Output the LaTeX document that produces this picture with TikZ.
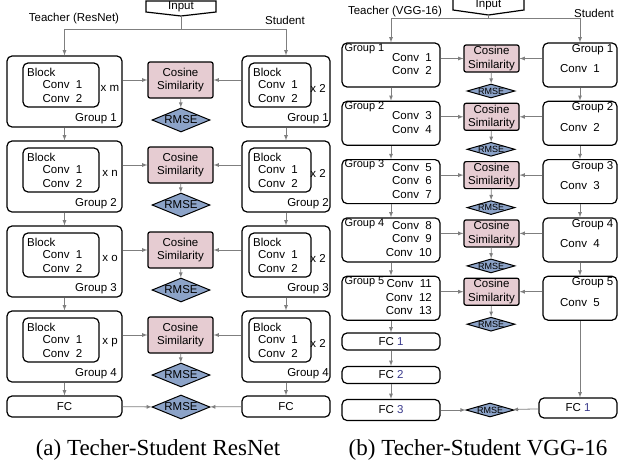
\documentclass[tikz,border=0pt]{standalone}
\usepackage{fontspec}
\setmainfont{Liberation Serif}
\setsansfont{Liberation Sans}
\usetikzlibrary{shapes.geometric}
\usetikzlibrary{arrows.meta}
\definecolor{cospink}{HTML}{E6CCD2}
\definecolor{rmseblue}{HTML}{8CA3C8}
\definecolor{fcblue}{HTML}{3A3A8C}
\definecolor{arrgray}{HTML}{7F7F7F}

\begin{document}
\begin{tikzpicture}[x=1pt,y=-1pt,>=latex,
    every node/.style={font=\sffamily\fontsize{11.5}{13.5}\selectfont, inner sep=1pt},
    box/.style={draw, line width=1.2pt, rounded corners=5pt},
    cos/.style={draw, line width=1.2pt, fill=cospink, rounded corners=2pt, align=center, inner sep=0pt},
    rmse/.style={diamond, draw, line width=1pt, fill=rmseblue, inner sep=0pt},
    arr/.style={->, draw=arrgray, line width=0.8pt},
    lin/.style={draw=arrgray, line width=0.8pt}]
  \useasboundingbox (0,0) rectangle (618,463);

  % (a) ResNet
  \node (ina) at (181,7) {Input};
  \draw[line width=1.2pt] (146,1) -- (146,12) -- (181,16) -- (216,12) -- (216,1) -- cycle;
  \coordinate (ina-b) at (181,16);
  \coordinate (ja) at (181,29);
  \node (ta) at (74,19) {Teacher (ResNet)};
  \node (sa) at (285,20) {Student};
  \foreach \i/\r in {1/m,2/n,3/o,4/p} {
    \pgfmathsetmacro{\yc}{6.5+85*\i} % row centre
    % teacher group
    \node[box, minimum width=115, minimum height=71] (tg\i) at (64.5,\yc) {};
    \node[box, minimum width=76, minimum height=44] (tb\i) at (61,\yc-6.5) {};
    \node[anchor=west] (tbl\i) at (26,\yc-19.5) {Block};
    \node (tca\i) at (62.5,\yc-7) {Conv~ 1};
    \node (tcb\i) at (62.5,\yc+7.5) {Conv~ 2};
    \node (tx\i) at (110,\yc-3.5) {x \r};
    \node[anchor=east] (tgl\i) at (118,\yc+27) {Group \i};
    % student group
    \node[box, minimum width=88, minimum height=71] (sg\i) at (286,\yc) {};
    \node[box, minimum width=62, minimum height=44] (sb\i) at (280,\yc-6.5) {};
    \node[anchor=west] (sbl\i) at (252,\yc-19.5) {Block};
    \node (sca\i) at (278,\yc-7) {Conv~ 1};
    \node (scb\i) at (278,\yc+7.5) {Conv~ 2};
    \node (sx\i) at (318,\yc-3.5) {x 2};
    \node[anchor=east] (sgl\i) at (330,\yc+27) {Group \i};
    % loss
    \node[cos, minimum width=65, minimum height=36] (tc\i) at (180.5,\yc-11.5) {Cosine\\Similarity};
    \node[rmse, minimum width=58, minimum height=24] (tr\i) at (181,\yc+28.5) {\makebox[0pt]{RMSE}};
    \draw[arr] (tg\i.east |- tc\i) -- (tc\i);
    \draw[arr] (sg\i.west |- tc\i) -- (tc\i);
    \draw[arr] (tc\i) -- (tr\i);
  }
  \foreach \i/\j in {1/2,2/3,3/4} {
    \draw[arr] (tg\i) -- (tg\j);
    \draw[arr] (sg\i) -- (sg\j);
  }
  \node[box, minimum width=115, minimum height=21] (tfc) at (64.5,406.5) {FC};
  \node[box, minimum width=88, minimum height=21] (sfc) at (286,406.5) {FC};
  \node[rmse, minimum width=58, minimum height=24] (fr) at (181,407) {\makebox[0pt]{RMSE}};
  \draw[lin] (ina-b) -- (ja);
  \draw[arr] (ja) -| (tg1);
  \draw[arr] (ja) -| (sg1);
  \draw[arr] (tg4) -- (tfc);
  \draw[arr] (sg4) -- (sfc);
  \draw[arr] (tfc) -- (fr);
  \draw[arr] (sfc) -- (fr);
  \node[anchor=base, font=\rmfamily\fontsize{23}{28}\selectfont] (capa) at (158,455) {(a) Techer-Student ResNet};

  % (b) VGG-16
  \node (inb) at (488.5,5) {Input};
  \draw[line width=1.2pt] (453,-4) -- (453,10) -- (488.5,15) -- (524,10) -- (524,-4);
  \coordinate (inb-b) at (488.5,15);
  \coordinate (jb) at (488.5,18);
  \node (tb) at (395,12) {Teacher (VGG-16)};
  \node (sb) at (594,13) {Student};
  \foreach \i/\c in {1/{Conv~ 1\\Conv~ 2}, 2/{Conv~ 3\\Conv~ 4}, 3/{Conv~ 5\\Conv~ 6\\Conv~ 7},
      4/{Conv~ 8\\Conv~ 9\\Conv~ 10}, 5/{Conv~ 11\\Conv~ 12\\Conv~ 13}} {
    \pgfmathsetmacro{\yc}{6.7+58.3*\i} % row centre
    \node[box, minimum width=98, minimum height=44] (vg\i) at (391,\yc) {};
    \node[anchor=north west, font=\sffamily\fontsize{11}{13}\selectfont] (vgl\i) at ([xshift=2]vg\i.north west) {Group \i};
    \node[anchor=east, align=right] (vcv\i) at (433,\yc-1) {\c};
    \node[box, minimum width=74, minimum height=44] (ug\i) at (580,\yc) {};
    \node[anchor=north east] (ugl\i) at ([xshift=-3,yshift=-1]ug\i.north east) {Group \i};
    \node (ucv\i) at (580,\yc+4) {Conv~ \i};
    \node[cos, minimum width=55, minimum height=27] (vc\i) at (491.5,\yc-6.5) {Cosine\\Similarity};
    \node[rmse, minimum width=48, minimum height=14] (vr\i) at (491,\yc+26) {\makebox[0pt]{\fontsize{9}{9}\selectfont RMSE}};
    \draw[arr] (vg\i.east |- vc\i) -- (vc\i);
    \draw[arr] (ug\i.west |- vc\i) -- (vc\i);
    \draw[arr] (vc\i) -- (vr\i);
  }
  \foreach \i/\j in {1/2,2/3,3/4,4/5} {
    \draw[arr] (vg\i) -- (vg\j);
    \draw[arr] (ug\i) -- (ug\j);
  }
  \node[box, minimum width=98, minimum height=17] (vf1) at (391,341.5) {FC \textcolor{fcblue}{1}};
  \node[box, minimum width=98, minimum height=17] (vf2) at (391,375) {FC \textcolor{fcblue}{2}};
  \node[box, minimum width=98, minimum height=21] (vf3) at (391,410) {FC \textcolor{fcblue}{3}};
  \node[box, minimum width=78, minimum height=20] (uf) at (578,408) {FC \textcolor{fcblue}{1}};
  \node[rmse, minimum width=48, minimum height=14] (vr) at (490,410) {\makebox[0pt]{\fontsize{9}{9}\selectfont RMSE}};
  \draw[lin] (inb-b) -- (jb);
  \draw[arr] (jb) -| (vg1);
  \draw[arr] (jb) -| (ug1);
  \draw[arr] (vg5) -- (vf1);
  \draw[arr] (vf1) -- (vf2);
  \draw[arr] (vf2) -- (vf3);
  \draw[arr] (ug5.south) -- (ug5.south |- uf.north);
  \draw[arr] (vf3) -- (vr);
  \draw[arr] (uf) -- (vr);
  \node[anchor=base, font=\rmfamily\fontsize{23}{28}\selectfont] (capb) at (478,455) {(b) Techer-Student VGG-16};
\end{tikzpicture}
\end{document}
